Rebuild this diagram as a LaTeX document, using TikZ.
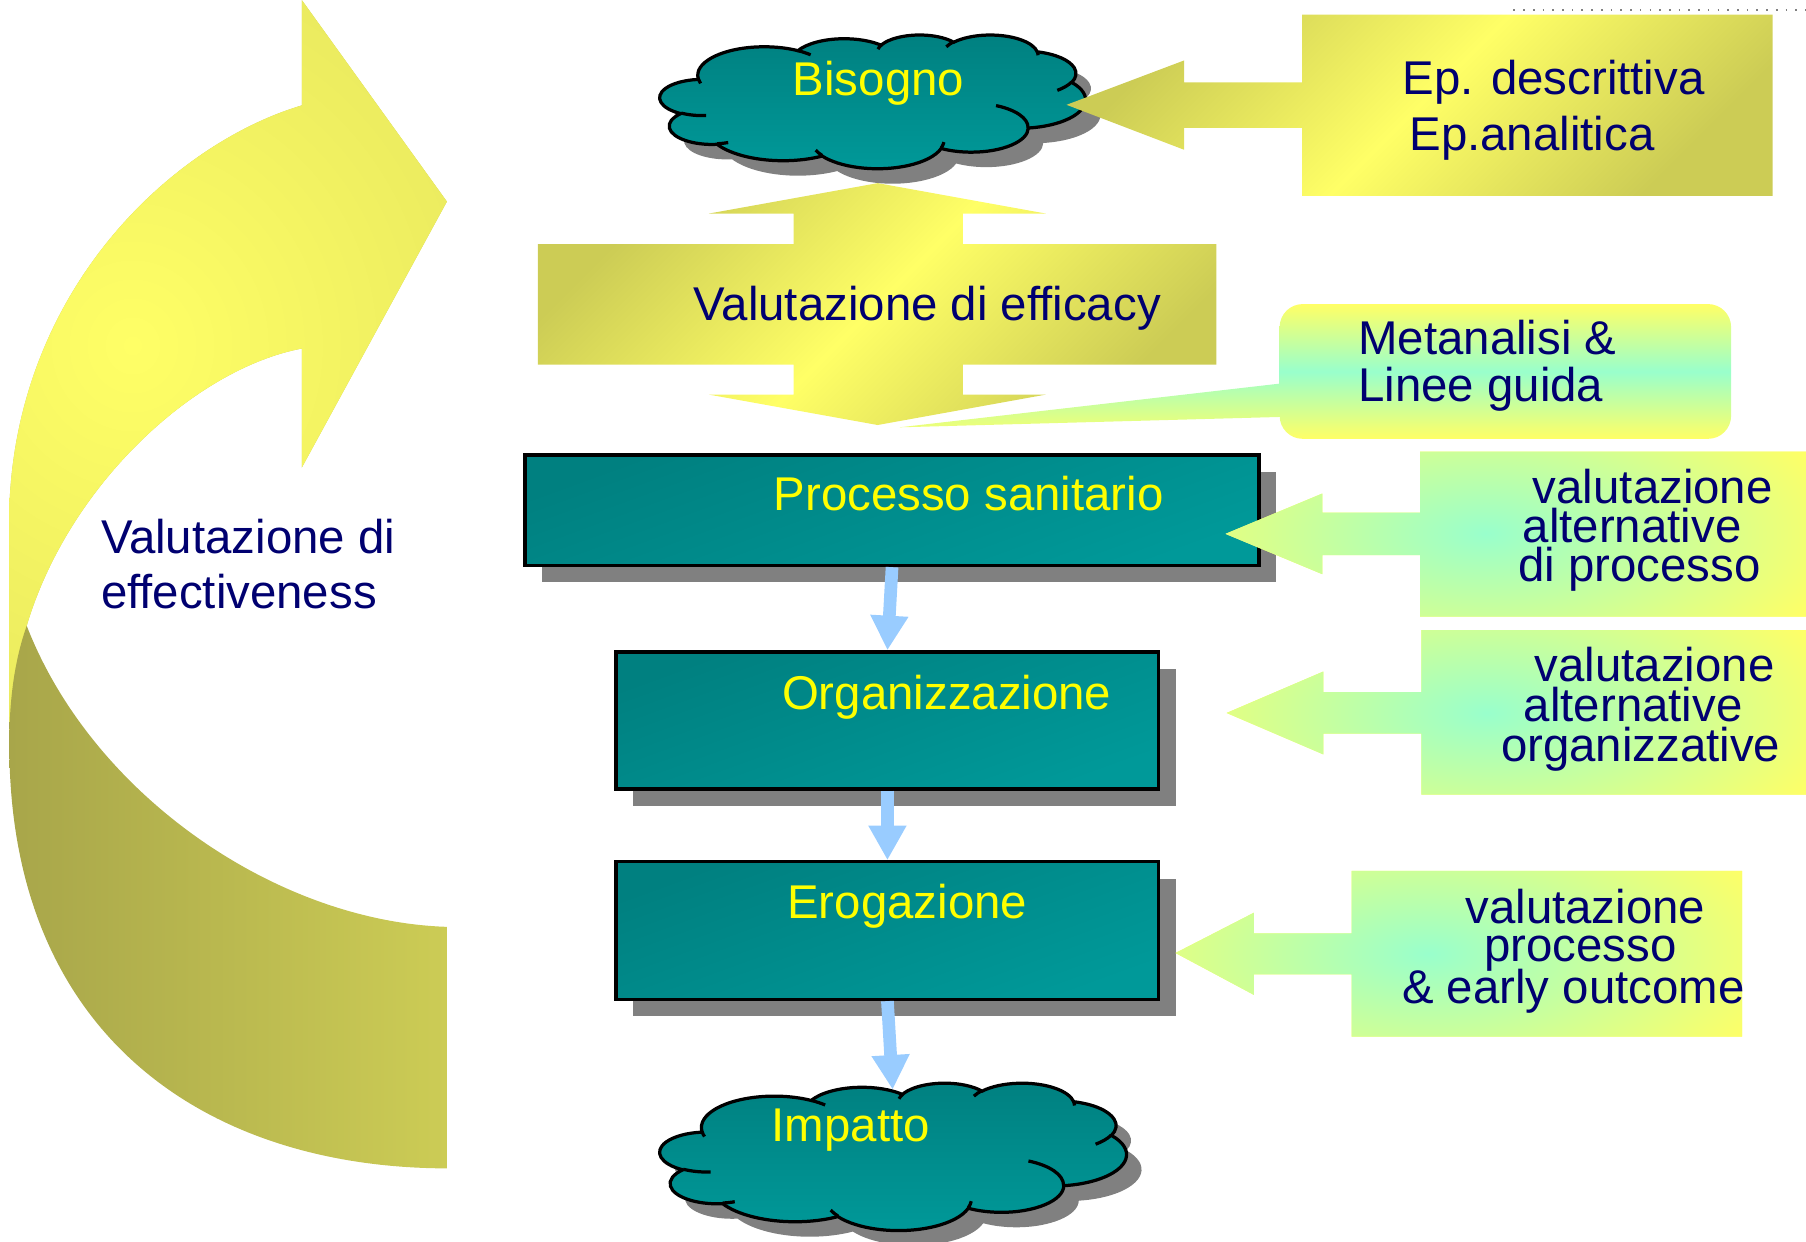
\documentclass[tikz,border=0pt]{standalone}
\usepackage{fontspec}
\setmainfont{Liberation Sans}
\usetikzlibrary{shadows,arrows.meta}
\definecolor{tealA}{HTML}{008080}
\definecolor{tealB}{HTML}{009999}
\definecolor{shgray}{HTML}{808080}
\definecolor{ylw}{HTML}{FFFF66}
\definecolor{olv}{HTML}{CCCC55}
\definecolor{dkolv}{HTML}{A8A64A}
\definecolor{aqua}{HTML}{99FFCC}
\definecolor{navy}{HTML}{000070}
\definecolor{tylw}{HTML}{FFFF00}
\definecolor{lblue}{HTML}{99CCFF}
% geometric (DrawingML) angles -> parametric angles for ellipse arcs
\newcommand{\defarc}[5]{%
  \pgfmathsetmacro{\cldA}{atan2((#2)*sin(#4),(#3)*cos(#4))}%
  \pgfmathsetmacro{\cldB}{atan2((#2)*sin((#4)+(#5)),(#3)*cos((#4)+(#5)))}%
  \pgfmathsetmacro{\cldD}{mod(\cldB-\cldA+720,360)}%
  \expandafter\xdef\csname arcs#1\endcsname{\cldA}%
  \expandafter\xdef\csname arcd#1\endcsname{\cldD}%
}
\defarc{A}{67.53}{91.90}{-190.487}{123.781}
\defarc{B}{53.33}{72.67}{-144.102}{89.945}
\defarc{C}{43.65}{59.45}{-145.808}{99.723}
\defarc{D}{48.57}{65.95}{-130.986}{117.242}
\defarc{E}{53.33}{72.73}{-78.709}{109.027}
\defarc{F}{67.75}{92.20}{-46.267}{130.269}
\defarc{G}{57.85}{78.67}{0.625}{114.033}
\defarc{H}{67.52}{92.15}{22.452}{115.173}
\defarc{I}{77.20}{105.43}{66.243}{75.711}
\defarc{J}{43.60}{59.18}{-274.942}{146.736}
\defarc{K}{43.45}{59.45}{-246.829}{152.519}
\defarc{a}{43.45}{59.45}{86.742}{26.430}
\defarc{b}{43.60}{59.18}{73.610}{11.447}
\defarc{c}{67.52}{92.15}{137.624}{14.081}
\defarc{d}{67.52}{92.15}{6.453}{15.998}
\defarc{e}{57.85}{78.67}{-70.292}{70.917}
\defarc{f}{53.33}{72.73}{30.318}{27.752}
\defarc{g}{48.57}{65.95}{-13.744}{14.859}
\defarc{h}{48.57}{65.95}{-149.181}{18.195}
\defarc{i}{43.65}{59.45}{-163.494}{17.686}
\defarc{j}{67.53}{91.90}{-66.707}{12.319}
\defarc{k}{67.53}{91.90}{157.654}{11.858}
\def\cloudouterpath{(39,143.7)
  arc[start angle=\arcsA, delta angle=\arcdA, x radius=67.53, y radius=91.90]
  arc[start angle=\arcsB, delta angle=\arcdB, x radius=53.33, y radius=72.67]
  arc[start angle=\arcsC, delta angle=\arcdC, x radius=43.65, y radius=59.45]
  arc[start angle=\arcsD, delta angle=\arcdD, x radius=48.57, y radius=65.95]
  arc[start angle=\arcsE, delta angle=\arcdE, x radius=53.33, y radius=72.73]
  arc[start angle=\arcsF, delta angle=\arcdF, x radius=67.75, y radius=92.20]
  arc[start angle=\arcsG, delta angle=\arcdG, x radius=57.85, y radius=78.67]
  arc[start angle=\arcsH, delta angle=\arcdH, x radius=67.52, y radius=92.15]
  arc[start angle=\arcsI, delta angle=\arcdI, x radius=77.20, y radius=105.43]
  arc[start angle=\arcsJ, delta angle=\arcdJ, x radius=43.60, y radius=59.18]
  arc[start angle=\arcsK, delta angle=\arcdK, x radius=43.45, y radius=59.45] -- cycle}
\def\cloudinnerpath{
  (46.93,261.77) arc[start angle=\arcsa, delta angle=\arcda, x radius=43.45, y radius=59.45]
  (69.28,348.99) arc[start angle=\arcsb, delta angle=\arcdb, x radius=43.60, y radius=59.18]
  (164.78,390.90) arc[start angle=\arcsc, delta angle=\arcdc, x radius=67.52, y radius=92.15]
  (288.27,347.51) arc[start angle=\arcsd, delta angle=\arcdd, x radius=67.52, y radius=92.15]
  (341.29,229.54) arc[start angle=\arcse, delta angle=\arcde, x radius=57.85, y radius=78.67]
  (417.98,153.54) arc[start angle=\arcsf, delta angle=\arcdf, x radius=53.33, y radius=72.73]
  (383.24,54.26) arc[start angle=\arcsg, delta angle=\arcdg, x radius=48.57, y radius=65.95]
  (290.78,39.52) arc[start angle=\arcsh, delta angle=\arcdh, x radius=48.57, y radius=65.95]
  (221.41,47.20) arc[start angle=\arcsi, delta angle=\arcdi, x radius=43.65, y radius=59.45]
  (140.00,51.92) arc[start angle=\arcsj, delta angle=\arcdj, x radius=67.53, y radius=91.90]
  (41.27,157.89) arc[start angle=\arcsk, delta angle=\arcdk, x radius=67.53, y radius=91.90]}
% #1,#2 = top-left corner, #3,#4 = units (cm per 1/432 of width / height)
\newcommand{\pptcloud}[4]{%
  \begin{scope}[shift={(#1+13,#2+13)}, x=#3cm, y=-#4cm]
    \fill[shgray] \cloudouterpath;
  \end{scope}
  \begin{scope}[shift={(#1,#2)}, x=#3cm, y=-#4cm]
    \shadedraw[top color=tealA, bottom color=tealB, draw=black, line width=0.8pt] \cloudouterpath;
    \draw[line width=0.8pt] \cloudinnerpath;
  \end{scope}}
\begin{document}
\begin{tikzpicture}[x=0.01cm,y=-0.01cm,
  font=\fontsize{11.7}{14}\selectfont,
  txt/.style={inner sep=0pt, anchor=base, text=navy},
  txtw/.style={inner sep=0pt, anchor=base west, text=navy},
  ytxt/.style={inner sep=0pt, anchor=base, text=tylw},
  shadowed/.style={drop shadow={shadow xshift=0.15cm, shadow yshift=-0.145cm, fill=shgray, opacity=1}},
  tealbox/.style={draw=black, line width=0.8pt, top color=tealA, bottom color=tealB, shading angle=20, inner sep=0pt, shadowed},
  yshade/.style={top color=olv, bottom color=olv, middle color=ylw, shading angle=45},
  bluearrow/.style={draw=lblue, line width=0.11cm, -{Triangle[width=0.31cm,length=0.3cm]}}
]
\useasboundingbox (0,0) rectangle (1568,1078);

% dotted line top right
\draw[shgray, dotted, line width=0.4pt] (1314,8.6) -- (1568,8.6);

% curved arrow (left): upper band with head
\begin{scope}
  \clip (262,0) -- (388,175) -- (262,406) -- (262,302.6)
    .. controls (170,320) and (60,420) .. (23.2,543.3)
    -- (8.1,650) -- (8.1,440)
    .. controls (15,250) and (150,125) .. (262,91.5) -- cycle;
  \fill[olv] (0,0) rectangle (400,660);
  \shade[inner color=ylw, outer color=olv] (115,300) ellipse (8cm and 8.4cm);
\end{scope}
% lower (back) band
\shade[left color=dkolv, right color=olv]
  (23.2,543.3) .. controls (12,575) and (8,610) .. (8.1,646.5)
  .. controls (8,900) and (180,1014) .. (388,1014.4)
  -- (388,804.7)
  .. controls (240,800) and (80,690) .. (23.2,543.3) -- cycle;
\node[txtw] (eff1) at (87,480.6) {Valutazione di};
\node[txtw] (eff2) at (87,528.7) {effectiveness};

% double arrow: Valutazione di efficacy
\shade[yshade] (762,159) -- (908,185.4) -- (836,185.4) -- (836,212) -- (1056,212) -- (1056,316.5)
  -- (836,316.5) -- (836,342.6) -- (908,342.6) -- (762,369) -- (615.5,342.6) -- (689,342.6)
  -- (689,316.5) -- (467,316.5) -- (467,212) -- (689,212) -- (689,185.4) -- (615.5,185.4) -- cycle;
\node[txt] (eff) at (805,278) {Valutazione di efficacy};

% clouds
\pptcloud{573}{30}{0.00854}{0.002685}
\node[ytxt] (tbis) at (762.7,82.5) {Bisogno};
\pptcloud{573}{940}{0.009375}{0.002963}
\coordinate (imptop) at (775,946);
\node[ytxt] (timp) at (738.6,991) {Impatto};

% Ep arrow + box
\shade[yshade] (926,91) -- (1028,52.5) -- (1028,71.5) -- (1130.6,71.5) -- (1130.6,12.7) -- (1539,12.7)
  -- (1539,170) -- (1130.6,170) -- (1130.6,111) -- (1028,111) -- (1028,130) -- cycle;
\node[txtw] (ep1) at (1217,82.4) {Ep. descrittiva};
\node[txtw] (ep2) at (1223,131) {Ep.analitica};

% teal boxes
\node[tealbox, minimum width=6.37cm, minimum height=0.96cm] (proc) at (774.5,443) {};
\node[ytxt] (tproc) at (841,443) {Processo sanitario};
\node[tealbox, minimum width=4.71cm, minimum height=1.19cm] (org) at (770.5,625.5) {};
\node[ytxt] (torg) at (822,615.6) {Organizzazione};
\node[tealbox, minimum width=4.71cm, minimum height=1.195cm] (erog) at (770.5,808) {};
\node[ytxt] (terog) at (787.7,797.5) {Erogazione};

% blue connectors
\draw[bluearrow] (proc.south) -- (org.north);
\draw[bluearrow] (org.south) -- (erog.north);
\draw[bluearrow] (erog.south) -- (imptop);

% Metanalisi box with pointer
\begin{scope}
  \clip[rounded corners=0.2cm] (1111,264) rectangle (1503,381);
  \shade[top color=ylw, bottom color=ylw, middle color=aqua] (781,264) rectangle (1503,381);
\end{scope}
\begin{scope}
  \clip (1111.5,333) -- (781,371) -- (1111.5,362) -- cycle;
  \shade[top color=ylw, bottom color=ylw, middle color=aqua] (781,264) rectangle (1503,381);
\end{scope}
\node[txtw] (met1) at (1178.6,308) {Metanalisi \&};
\node[txtw] (met2) at (1178.6,348.5) {Linee guida};

% right arrow boxes
\begin{scope}
  \clip (1064,463.5) -- (1148,428.5) -- (1148,445) -- (1233,445) -- (1233,392) -- (1568,392) -- (1568,535.4)
    -- (1233,535.4) -- (1233,482) -- (1148,482) -- (1148,498.5) -- cycle;
  \fill[ylw] (1060,390) rectangle (1568,540);
  \shade[inner color=aqua, outer color=ylw] (1290,463) ellipse (3.2cm and 1.45cm);
\end{scope}
\node[txt] (a1) at (1435,437) {valutazione};
\node[txt] (a2) at (1417,471) {alternative};
\node[txt] (a3) at (1423.5,505) {di processo};

\begin{scope}
  \clip (1065,619) -- (1149,583) -- (1149,601) -- (1234,601) -- (1234,547) -- (1568,547) -- (1568,690)
    -- (1234,690) -- (1234,637) -- (1149,637) -- (1149,655) -- cycle;
  \fill[ylw] (1060,545) rectangle (1568,692);
  \shade[inner color=aqua, outer color=ylw] (1291,619) ellipse (3.2cm and 1.45cm);
\end{scope}
\node[txt] (b1) at (1436.5,592) {valutazione};
\node[txt] (b2) at (1418,626.6) {alternative};
\node[txt] (b3) at (1424.5,661) {organizzative};

\begin{scope}
  \clip (1020.6,827.4) -- (1088.7,792.4) -- (1088.7,810.4) -- (1173.6,810.4) -- (1173.6,756) -- (1512.5,756)
    -- (1512.5,900) -- (1173.6,900) -- (1173.6,845.9) -- (1088.7,845.9) -- (1088.7,863.8) -- cycle;
  \fill[ylw] (1015,750) rectangle (1515,905);
  \shade[inner color=aqua, outer color=ylw] (1240,828) ellipse (3.2cm and 1.45cm);
\end{scope}
\node[txt] (c1) at (1376.5,801.6) {valutazione};
\node[txt] (c2) at (1372,835) {processo};
\node[txt] (c3) at (1366,871) {\& early outcome};
\end{tikzpicture}
\end{document}
